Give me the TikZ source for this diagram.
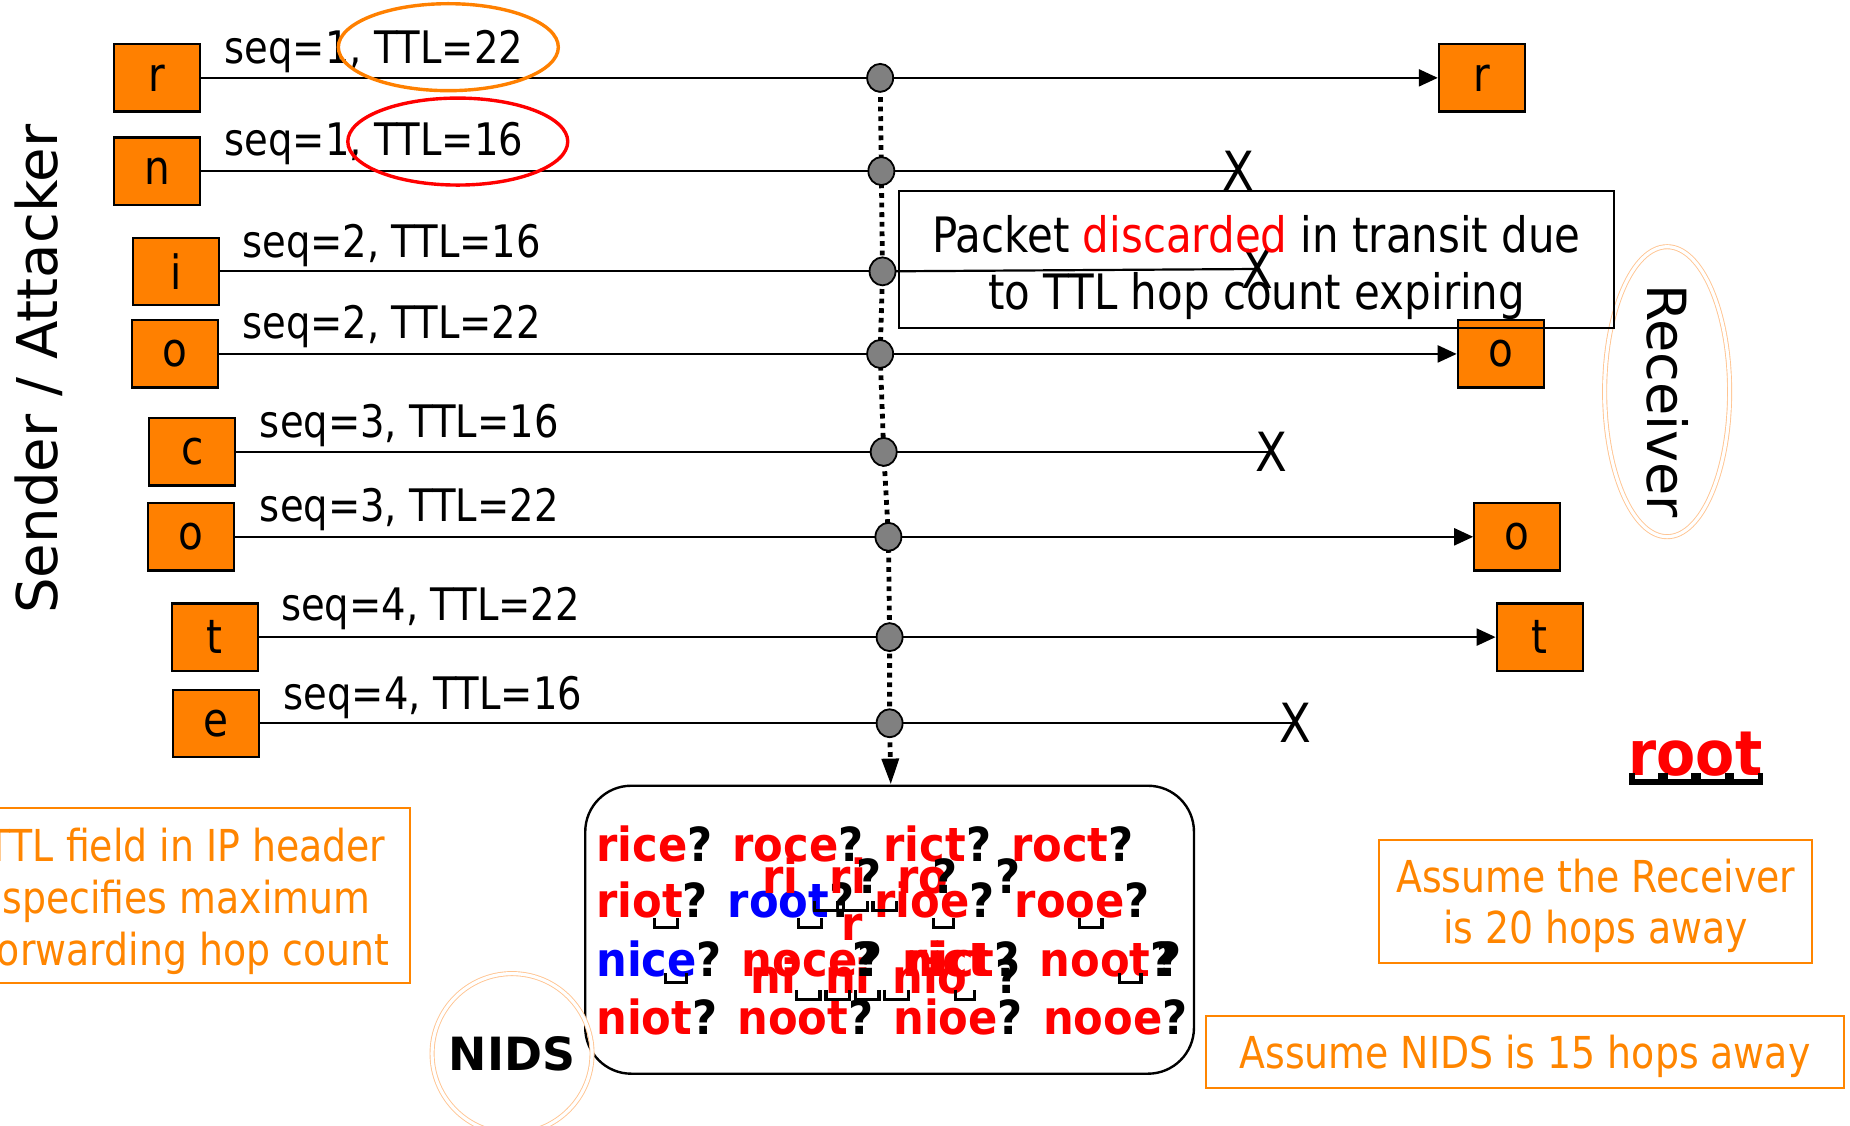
\documentclass[tikz,border=0pt]{standalone}
\usepackage{fontspec}
\setmainfont{DejaVu Sans}
\newfontfamily\cond{DejaVu Sans}[FakeStretch=0.86]
\newfontfamily\bcond{DejaVu Sans}[FakeStretch=0.92]
\usetikzlibrary{shapes.geometric,arrows.meta}
\definecolor{boxor}{RGB}{255,128,0}
\definecolor{txtor}{RGB}{255,133,0}
\definecolor{lightor}{RGB}{255,196,145}
\definecolor{dotgray}{RGB}{128,128,128}
\newcommand\fsz[1]{\fontsize{#1}{#1}\selectfont}
\newcommand\Rd[1]{\textcolor{red}{#1}}
\newcommand\Bl[1]{\textcolor{blue}{#1}}
\newcommand\missbox[4][1.6pt]{\draw[line width=#1] (#2,#3) -- (#2,#3+8) -- (#2+#4,#3+8) -- (#2+#4,#3);}
\begin{document}
\begin{tikzpicture}[x=0.59pt,y=-0.59pt,
  pkt/.style={draw=black, fill=boxor, line width=1.1pt, minimum width=43pt, minimum height=33.6pt, inner sep=0pt, font=\cond\fsz{23.6pt}},
  hop/.style={ellipse, draw=black, fill=dotgray, line width=0.9pt, minimum width=13pt, minimum height=14pt, inner sep=0pt},
  seqlbl/.style={anchor=base west, inner sep=0pt, font=\cond\fsz{22.4pt}},
  drop/.style={inner sep=0pt, font=\cond\fsz{27pt}},
  wire/.style={line width=1.1pt},
  arr/.style={wire, -{Triangle[length=9.5pt,width=8.5pt]}},
  nidsdots/.style={line width=2.4pt, dash pattern=on 2.4pt off 2.4pt},
  notebox/.style={draw=txtor, line width=1pt, inner sep=0pt},
  notetext/.style={text=txtor, align=center, inner sep=0pt},
  bw/.style={font=\bcond\bfseries\fsz{23.5pt}, anchor=base west, inner sep=0pt},
  thinring/.style={draw=lightor, double=white, double distance=1.6pt, line width=0.45pt},
]
\clip (0,0) rectangle (1568,954);

% side labels
\node[rotate=90, font=\fsz{28.1pt}, inner sep=0pt] (sender) at (33,313) {Sender / Attacker};
\node[ellipse, thinring, minimum width=62.5pt, minimum height=145pt, inner sep=0pt] (recv) at (1413,332) {};
\node[rotate=-90, font=\fsz{27pt}, inner sep=0pt] (recvlbl) at (1413,340) {Receiver};

% sender packets
\node[pkt] (s1) at (133,66) {r};
\node[pkt] (s2) at (133,145) {n};
\node[pkt] (s3) at (149,230) {i};
\node[pkt] (s4) at (148,300) {o};
\node[pkt] (s5) at (163,383) {c};
\node[pkt] (s6) at (162,455) {o};
\node[pkt] (s7) at (182,540) {t};
\node[pkt] (s8) at (183,613) {e};

% receiver packets
\node[pkt] (r1) at (1256,66) {r};
\node[pkt] (r4) at (1272,300) {o};
\node[pkt] (r6) at (1286,455) {o};
\node[pkt] (r7) at (1305,540) {t};

% drop marks
\node[drop] (x2) at (1050,145) {X};
\node[drop] (x3) at (1066,228) {X};
\node[drop] (x5) at (1078,383) {X};
\node[drop] (x8) at (1098,613) {X};

% NIDS tap points
\coordinate (c1) at (746,66);
\coordinate (c2) at (747,145);
\coordinate (c3) at (748,230);
\coordinate (c4) at (746,300);
\coordinate (c5) at (749,383);
\coordinate (c6) at (753,455);
\coordinate (c7) at (754,540);
\coordinate (c8) at (754,613);
\coordinate (tip) at (755,665);

% wires
\draw[wire] (s1) -- (c1); \draw[arr] (c1) -- (r1);
\draw[wire] (s2) -- (c2); \draw[wire] (c2) -- (x2.center);
\draw[wire] (s3) -- (c3); \draw[wire] (c3) -- (x3.center);
\draw[wire] (s4) -- (c4); \draw[arr] (c4) -- (r4);
\draw[wire] (s5) -- (c5); \draw[wire] (c5) -- (x5.center);
\draw[wire] (s6) -- (c6); \draw[arr] (c6) -- (r6);
\draw[wire] (s7) -- (c7); \draw[arr] (c7) -- (r7);
\draw[wire] (s8) -- (c8); \draw[wire] (c8) -- (x8.center);

% dotted copy line to NIDS
\draw[nidsdots] (c1) -- (c2) -- (c3) -- (c4) -- (c5) -- (c6) -- (c7) -- (c8);
\draw[nidsdots, -{Triangle[length=13pt,width=8.3pt]}] (c8) -- (tip);

\foreach \i in {1,...,8} { \node[hop] (d\i) at (c\i) {}; }

% seq labels
\node[seqlbl] (l1) at (190,54) {seq=1, TTL=22};
\node[seqlbl] (l2) at (190,132) {seq=1, TTL=16};
\node[seqlbl] (l3) at (205,218) {seq=2, TTL=16};
\node[seqlbl] (l4) at (205,287) {seq=2, TTL=22};
\node[seqlbl] (l5) at (220,371) {seq=3, TTL=16};
\node[seqlbl] (l6) at (220,442) {seq=3, TTL=22};
\node[seqlbl] (l7) at (238,526) {seq=4, TTL=22};
\node[seqlbl] (l8) at (240,601) {seq=4, TTL=16};

\node[ellipse, draw=boxor, line width=1.7pt, minimum width=110pt, minimum height=43.5pt, inner sep=0pt] (ov1) at (380,40) {};
\node[ellipse, draw=red, line width=1.7pt, minimum width=110pt, minimum height=43.5pt, inner sep=0pt] (ov2) at (388,120) {};

% explanation box
\node[draw, line width=1.1pt, minimum width=357.5pt, minimum height=68.4pt, inner sep=0pt] (disc) at (1065,220) {};
\node[align=center, inner sep=0pt, font=\cond\fontsize{24.4pt}{28.3pt}\selectfont] (disctext) at (1065,227)
      {Packet \textcolor{red}{discarded} in transit due\\to TTL hop count expiring};

% NIDS buffer
\node[draw, rounded corners=23pt, line width=1.2pt, minimum width=304.4pt, minimum height=144pt] (nidsbox) at (754,788) {};
\node[bw] (row1) at (505,730) {\Rd{rice}? \Rd{roce}? \Rd{rict}? \Rd{roct}?};
\node[bw] (row2) at (505,778) {\Rd{riot}? \Bl{root}? \Rd{rioe}? \Rd{rooe}?};
\node[bw] (row3) at (505,828) {\Bl{nice}? \Rd{noce}? \Rd{nict}? \Rd{noot}?};
\node[bw] (row4) at (505,877) {\Rd{niot}? \Rd{noot}? \Rd{nioe}? \Rd{nooe}?};
% overlapping fragments
\node[bw] (o1) at (646,757) {\Rd{ri}};
\node[bw] (o2) at (703,757) {\Rd{ri}};
\node[bw] (o3) at (726,757) {?};
\node[bw] (o4) at (760,757) {\Rd{ro}};
\node[bw] (o5) at (790,757) {?};
\node[bw] (o6) at (843,757) {?};
\node[bw] (o7) at (713,797) {\Rd{r}};
\node[bw] (o8) at (636,842) {\Rd{ni}};
\node[bw] (o9) at (699,842) {\Rd{ni}};
\node[bw] (o10) at (756,842) {\Rd{nio}};
\node[bw] (o11) at (722,828) {?};
\node[bw] (o12) at (843,842) {?};
\node[bw] (o13) at (768,828) {\Rd{rict}};
\node[bw] (o14) at (980,828) {?};
\missbox{555}{778}{19}
\missbox{677}{778}{19}
\missbox{690}{764}{20}
\missbox{715}{764}{20}
\missbox{740}{764}{20}
\missbox{791}{778}{17}
\missbox{915}{778}{19}
\missbox{564}{825}{18}
\missbox{675}{839}{20}
\missbox{700}{839}{20}
\missbox{725}{839}{20}
\missbox{750}{839}{20}
\missbox{810}{839}{16}
\missbox{949}{825}{18}

\node[circle, thinring, minimum size=80pt, inner sep=0pt, font=\bfseries\fsz{22.9pt}] (nids) at (434,893) {NIDS};

% "root" with missing-glyph marks
\node[font=\bcond\bfseries\fsz{31pt}, text=red, inner sep=0pt, anchor=base] (rootw) at (1437,657) {root};
\missbox[2.8pt]{1383}{655}{25}
\missbox[2.8pt]{1411}{655}{25}
\missbox[2.8pt]{1439}{655}{25}
\missbox[2.8pt]{1467}{655}{25}

% orange notes
\node[notebox, minimum width=224pt, minimum height=87.3pt] (ttlnote) at (158,759) {};
\node[notetext, font=\cond\fontsize{22pt}{26pt}\selectfont] (ttltext) at (158,764)
  {TTL field in IP header\\specifies maximum\\forwarding hop count};
\node[notebox, minimum width=216.5pt, minimum height=61.4pt] (rnote) at (1352.5,764) {};
\node[notetext, font=\cond\fontsize{22pt}{25.4pt}\selectfont] (rtext) at (1352.5,768)
  {Assume the Receiver\\is 20 hops away};
\node[notebox, minimum width=319pt, minimum height=36pt] (nnote) at (1292.5,891.5) {};
\node[notetext, font=\cond\fsz{22pt}] (ntext) at (1292.5,895)
  {Assume NIDS is 15 hops away};
\end{tikzpicture}
\end{document}
